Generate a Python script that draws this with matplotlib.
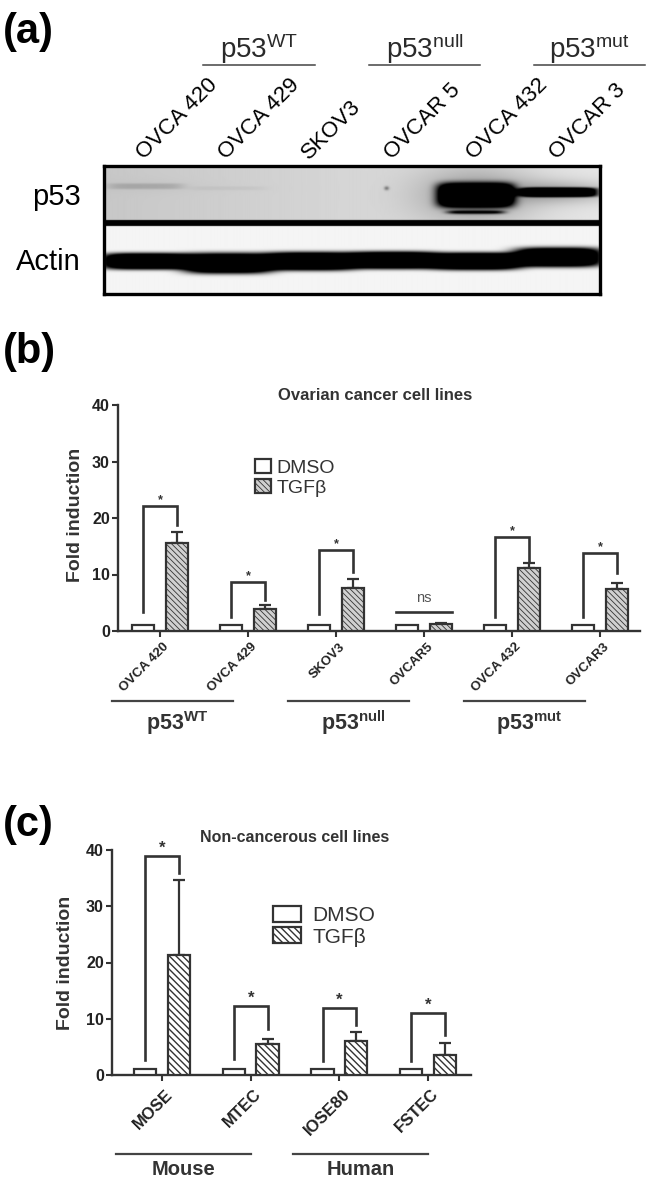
import numpy as np
import matplotlib
matplotlib.use("Agg")
import matplotlib.pyplot as plt
import matplotlib.transforms as mtransforms

plt.rcParams['font.family'] = ['Liberation Sans', 'DejaVu Sans']
plt.rcParams['mathtext.fontset'] = 'custom'
plt.rcParams['mathtext.rm'] = 'Liberation Sans'
plt.rcParams['mathtext.bf'] = 'Liberation Sans:bold'
plt.rcParams['mathtext.it'] = 'Liberation Sans:italic'

# ------------------------------------------------------------------ data
# (a) western blot
blot_lanes = ['OVCA 420', 'OVCA 429', 'SKOV3', 'OVCAR 5', 'OVCA 432', 'OVCAR 3']
blot_group_names = ['WT', 'null', 'mut']
blot_group_lanes = [(0, 1), (2, 3), (4, 5)]
p53_density = [0.07, 0.02, 0.0, 0.0, 1.0, 0.95]
p53_band_px = [6, 4, 4, 4, 24, 9]
p53_band_row = [186, 188, 188, 188, 195, 192]
p53_lower_density = [0.0, 0.0, 0.0, 0.0, 0.8, 0.0]
p53_spot_density = [0.0, 0.0, 0.0, 0.35, 0.0, 0.0]
actin_density = [1.0, 1.0, 1.0, 1.0, 1.0, 1.0]
actin_band_px = [16, 20, 18, 17, 17, 19]
actin_band_row = [261, 263, 261, 260, 261, 257]

# (b) ovarian cancer cell lines
b_lines = ['OVCA 420', 'OVCA 429', 'SKOV3', 'OVCAR5', 'OVCA 432', 'OVCAR3']
b_dmso = [1.0, 1.0, 1.0, 1.0, 1.0, 1.0]
b_tgf = [15.6, 3.9, 7.6, 1.3, 11.2, 7.4]
b_tgf_err = [1.9, 0.7, 1.6, 0.2, 0.8, 1.1]
b_sig = ['*', '*', '*', 'ns', '*', '*']
b_br_top = [22.1, 8.7, 14.3, 3.4, 16.6, 13.8]
b_br_right = [18.8, 5.5, 10.4, 3.4, 12.4, 10.3]
b_br_left = [3.4, 2.5, 3.0, 3.4, 2.5, 2.5]
b_group_names = ['WT', 'null', 'mut']
b_group_idx = [(0, 1), (2, 3), (4, 5)]

# (c) non-cancerous cell lines
c_lines = ['MOSE', 'MTEC', 'IOSE80', 'FSTEC']
c_dmso = [1.0, 1.0, 1.0, 1.0]
c_tgf = [21.3, 5.6, 6.0, 3.6]
c_tgf_err = [13.4, 0.8, 1.6, 2.1]
c_sig = ['*', '*', '*', '*']
c_br_top = [38.9, 12.3, 12.0, 11.0]
c_br_right = [35.9, 8.2, 8.9, 7.1]
c_br_left = [2.7, 2.8, 2.5, 2.5]
c_group_names = ['Mouse', 'Human']
c_group_idx = [(0, 1), (2, 3)]

y_ticks = [0, 10, 20, 30, 40]

# ------------------------------------------------------------------ layout helpers
W, H, DPI = 652, 1182, 100
fig = plt.figure(figsize=(W / DPI, H / DPI), dpi=DPI)
fig.patch.set_facecolor('white')
INK = '#333333'


def fx(px):
    return px / W


def fy(py):
    return 1 - py / H


def add_ax(x0, y0, x1, y1):
    return fig.add_axes([fx(x0), fy(y1), (x1 - x0) / W, (y1 - y0) / H])


def ftext(px, py, s, **kw):
    return fig.text(fx(px), fy(py), s, **kw)


# panel letters
ftext(3, 43, '(a)', fontsize=30, fontweight='bold', va='baseline', color='black')
ftext(3, 363, '(b)', fontsize=30, fontweight='bold', va='baseline', color='black')
ftext(3, 836, '(c)', fontsize=30, fontweight='bold', va='baseline', color='black')

# ------------------------------------------------------------------ (a) blot
axb = add_ax(104, 166, 600, 294)
ys = np.arange(166, 294, 0.5)
xs = np.linspace(-0.5, 5.5, 700)
X, Y = np.meshgrid(xs, ys)
dark = np.zeros_like(X)
p53_zone = Y < 220
act_zone = Y >= 226
sep_zone = (~p53_zone) & (~act_zone)
dark[p53_zone] = (0.22 - 0.02 * (X[p53_zone] + 0.5))
dark[act_zone] = 0.04
for i in range(len(blot_lanes)):
    lane = np.exp(-((X - i) / 0.46) ** 6)
    band = p53_density[i] * np.exp(-((Y - p53_band_row[i]) / (p53_band_px[i] / 2)) ** 4) * lane
    halo = 0.25 * p53_density[i] * np.exp(-((Y - p53_band_row[i]) / (p53_band_px[i] * 1.2)) ** 2) \
        * np.exp(-((X - i) / 0.7) ** 2)
    lower = p53_lower_density[i] * np.exp(-((Y - 212) / 1.8) ** 2) * np.exp(-((X - i) / 0.35) ** 6)
    spot = p53_spot_density[i] * np.exp(-((Y - 188) / 2.0) ** 2) * np.exp(-((X - i + 0.08) / 0.03) ** 2)
    dark += np.where(p53_zone, 1.7 * band + halo + lower + spot, 0)
    aband = actin_density[i] * np.exp(-((Y - actin_band_row[i]) / (actin_band_px[i] / 2)) ** 4) \
        * np.exp(-((X - i) / 0.53) ** 4)
    dark += np.where(act_zone, 1.8 * aband, 0)
dark = np.clip(dark, 0, 1)
dark[sep_zone] = 1.0
axb.imshow(dark, cmap='gray_r', vmin=0, vmax=1, extent=(-0.5, 5.5, 294, 166),
           aspect='auto', interpolation='bilinear')
axb.set_xlim(-0.5, 5.5)
axb.set_ylim(294, 166)
axb.set_xticks([])
axb.set_yticks([])
for s in axb.spines.values():
    s.set_linewidth(2.4)
    s.set_color('black')

trb = mtransforms.blended_transform_factory(axb.transData, fig.transFigure)
for i, name in enumerate(blot_lanes):
    axb.text(i - 0.02, fy(160), name, transform=trb, rotation=45, rotation_mode='anchor',
             ha='left', va='baseline', fontsize=16, color='black')
for gname, (l0, l1) in zip(blot_group_names, blot_group_lanes):
    xa, xb = l0 + 0.7, l1 + 1.05
    axb.plot([xa, xb], [fy(65), fy(65)], transform=trb, color='#444444', lw=1.1, clip_on=False)
    axb.text((xa + xb) / 2, fy(58), r'$\mathrm{p53}^{\mathrm{%s}}$' % gname, transform=trb,
             ha='center', va='baseline', fontsize=20, color='#2a2a2a')
ftext(81, 205, 'p53', fontsize=21, ha='right', va='baseline', color='black')
ftext(81, 270, 'Actin', fontsize=21, ha='right', va='baseline', color='black')


# ------------------------------------------------------------------ bar panels
def bar_panel(ax, names, dmso, tgf, err, tops, rights, lefts, sig, face, hatch, hatch_lw,
              xlim, tick_fs, tick_pad, star_fs):
    x = np.arange(len(names))
    off, w = 0.19, 0.25
    plt.rcParams['hatch.linewidth'] = hatch_lw
    ax.bar(x - off, dmso, w, color='white', edgecolor=INK, lw=1.6, label='DMSO', zorder=3)
    ax.bar(x + off, tgf, w, color=face, edgecolor=INK, lw=1.6, hatch=hatch, label='TGFβ', zorder=3)
    ax.errorbar(x + off, tgf, yerr=[np.zeros(len(x)), err], fmt='none', ecolor=INK,
                elinewidth=1.6, capsize=4.5, capthick=1.6, zorder=2)
    for i in range(len(x)):
        xl, xr = x[i] - off, x[i] + off
        if sig[i] == 'ns':
            ax.plot([xl - w / 2, xr + w / 2], [tops[i], tops[i]], color=INK, lw=1.9, zorder=4)
            ax.annotate('ns', (x[i], tops[i]), xytext=(0, 5), textcoords='offset points',
                        ha='center', va='bottom', fontsize=10.5, color='#555555')
        else:
            ax.plot([xl, xl, xr, xr], [lefts[i], tops[i], tops[i], rights[i]], color=INK,
                    lw=1.9, solid_joinstyle='miter', zorder=4)
            ax.annotate('*', ((xl + xr) / 2, tops[i]), xytext=(0, 0), textcoords='offset points',
                        ha='center', va='bottom', fontsize=star_fs, fontweight='bold', color=INK)
    ax.set_xlim(*xlim)
    ax.set_ylim(0, 40)
    ax.set_yticks(y_ticks)
    ax.set_xticks(x)
    ax.set_xticklabels(names, rotation=45, ha='right', rotation_mode='anchor',
                       fontsize=tick_fs, fontweight='bold', color='#222222')
    for s in ['top', 'right']:
        ax.spines[s].set_visible(False)
    for s in ['left', 'bottom']:
        ax.spines[s].set_linewidth(1.7)
        ax.spines[s].set_color(INK)
    ax.tick_params(axis='both', direction='out', length=4.3, width=1.5, color=INK)
    ax.tick_params(axis='x', pad=tick_pad)
    ax.tick_params(axis='y', labelsize=11.5, pad=1.5, labelcolor='#222222')
    for lbl in ax.get_yticklabels():
        lbl.set_fontweight('bold')
    for lbl in ax.get_xticklabels():
        lbl.set_transform(lbl.get_transform() + mtransforms.ScaledTranslation(3 / DPI, 0, fig.dpi_scale_trans))
    ax.set_facecolor('none')
    return x


def group_lines(ax, idx_pairs, labels, start_off, end_off, line_py, label_py, fs, mathsup, dx):
    tr = mtransforms.blended_transform_factory(ax.transData, fig.transFigure)
    for (i0, i1), lab in zip(idx_pairs, labels):
        xa, xb = i0 + start_off, i1 + end_off
        ax.plot([xa, xb], [fy(line_py)] * 2, transform=tr, color='#444444', lw=1.6, clip_on=False)
        s = r'$\mathbf{p53}^{\mathbf{%s}}$' % lab if mathsup else lab
        ax.text((xa + xb) / 2 + dx, fy(label_py), s, transform=tr, ha='center', va='baseline',
                fontsize=fs, fontweight='bold', color='#333333')


# (b)
ax1 = add_ax(118, 405, 640, 631)
bar_panel(ax1, b_lines, b_dmso, b_tgf, b_tgf_err, b_br_top, b_br_right, b_br_left, b_sig,
          face='#d0d0d0', hatch='\\\\\\\\\\\\', hatch_lw=0.6, xlim=(-0.477, 5.455),
          tick_fs=9.5, tick_pad=2.5, star_fs=9)
group_lines(ax1, b_group_idx, b_group_names, -0.54, -0.17, 701, 730, 15.5, True, 0.05)
leg1 = ax1.legend(loc='upper left', bbox_to_anchor=(fx(255), fy(459)), bbox_transform=fig.transFigure,
                  frameon=False, fontsize=14, handlelength=0.82, handleheight=0.77,
                  handletextpad=0.3, labelspacing=0.09, borderpad=0, borderaxespad=0)
for t in leg1.get_texts():
    t.set_color('#333333')
ftext(375, 395, 'Ovarian cancer cell lines', fontsize=12, fontweight='bold', ha='center',
      va='center', color='#333333')
ftext(75, 515, 'Fold induction', fontsize=14, fontweight='bold', rotation=90, ha='center',
      va='center', color='#333333')

# (c)
ax2 = add_ax(112, 850, 471, 1075)
bar_panel(ax2, c_lines, c_dmso, c_tgf, c_tgf_err, c_br_top, c_br_right, c_br_left, c_sig,
          face='white', hatch='\\\\\\\\\\', hatch_lw=1.0, xlim=(-0.564, 3.484),
          tick_fs=12, tick_pad=4, star_fs=12)
group_lines(ax2, c_group_idx, c_group_names, -0.52, 0.0, 1154, 1175, 14.5, False, 0.0)
leg2 = ax2.legend(loc='upper left', bbox_to_anchor=(fx(273), fy(906)), bbox_transform=fig.transFigure,
                  frameon=False, fontsize=15, handlelength=1.35, handleheight=0.82,
                  handletextpad=0.53, labelspacing=0.09, borderpad=0, borderaxespad=0)
for t in leg2.get_texts():
    t.set_color('#333333')
ftext(295, 837, 'Non-cancerous cell lines', fontsize=11.5, fontweight='bold', ha='center',
      va='center', color='#333333')
ftext(65, 963, 'Fold induction', fontsize=14, fontweight='bold', rotation=90, ha='center',
      va='center', color='#333333')

fig.savefig('out.png', dpi=DPI)
